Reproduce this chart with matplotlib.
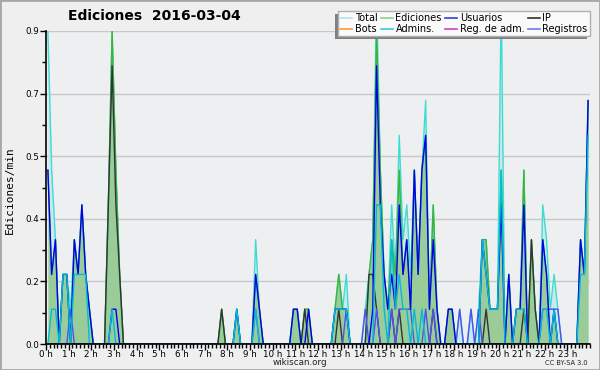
import numpy as np
import matplotlib
matplotlib.use("Agg")
import matplotlib.pyplot as plt
from matplotlib.lines import Line2D
from matplotlib.patches import Rectangle
from matplotlib.ticker import FixedLocator, MultipleLocator

# 10-minute bins (6 per hour), values in edits per minute
total = (
    [.9, .5, .3, 0, .2, .2] + [.1, .3, .2, .4, .2, .1] + [0, 0, 0, 0, .4, .9] + [.5, .2, 0, 0, 0, 0] +
    [0] * 6 + [0] * 6 + [0] * 6 + [0, 0, 0, 0, .1, 0] +
    [0, 0, .1, 0, 0, 0] + [0, .3, .1, 0, 0, 0] + [0, 0, 0, 0, 0, .1] + [.1, 0, .1, .1, 0, 0] +
    [0, 0, 0, 0, .1, .2] + [.1, .2, 0, 0, 0, 0] + [.1, .2, .3, 1.0, .5, .2] + [.1, .4, .2, .6, .3, .4] +
    [.2, .5, .2, .5, .7, .1] + [.4, .1, 0, 0, .1, .1] + [0, .1, 0, 0, .1, 0] + [.1, .3, .3, .1, .1, .1] +
    [1.0, 0, .2, 0, .1, .1] + [.5, 0, .3, .1, 0, .4] + [.3, .1, .2, .1, 0, 0] + [0, 0, 0, .3, .2, .7]
)
edits = (
    [.5, .2, .3, 0, .2, .2] + [0, .3, .2, .4, .2, .1] + [0, 0, 0, 0, .4, .9] + [.5, .2, 0, 0, 0, 0] +
    [0] * 6 + [0] * 6 + [0] * 6 + [0, 0, 0, 0, .1, 0] +
    [0, 0, .1, 0, 0, 0] + [0, .2, .1, 0, 0, 0] + [0, 0, 0, 0, 0, .1] + [.1, 0, .1, .1, 0, 0] +
    [0, 0, 0, 0, .1, .2] + [.1, .1, 0, 0, 0, 0] + [0, .2, .3, .9, .5, .2] + [.1, .3, .2, .5, .2, .3] +
    [.1, .5, .2, .5, .6, .1] + [.4, .1, 0, 0, .1, .1] + [0] * 6 + [0, .3, .3, .1, .1, .1] +
    [.5, 0, .2, 0, .1, .1] + [.5, 0, .3, .1, 0, .3] + [.2, 0, .1, 0, 0, 0] + [0, 0, 0, .3, .2, .7]
)
users = (
    [.5, .2, .3, 0, .2, .2] + [0, .3, .2, .4, .2, .1] + [0, 0, 0, 0, 0, .1] + [.1, 0, 0, 0, 0, 0] +
    [0] * 6 + [0] * 6 + [0] * 6 + [0] * 6 +
    [0, 0, .1, 0, 0, 0] + [0, .2, .1, 0, 0, 0] + [0, 0, 0, 0, 0, .1] + [.1, 0, 0, .1, 0, 0] +
    [0, 0, 0, 0, .1, .1] + [.1, .1, 0, 0, 0, 0] + [0, 0, .1, .8, .4, .2] + [.1, .2, .1, .4, .2, .3] +
    [.1, .5, .2, .5, .6, .1] + [.3, .1, 0, 0, .1, .1] + [0] * 6 + [0, .3, .2, .1, .1, .1] +
    [.4, 0, .2, 0, .1, .1] + [.4, 0, 0, 0, 0, .3] + [.2, 0, .1, 0, 0, 0] + [0, 0, 0, .3, .2, .7]
)
ip = (
    [0] * 6 + [0] * 6 + [0, 0, 0, 0, .4, .8] + [.4, .2, 0, 0, 0, 0] +
    [0] * 6 + [0] * 6 + [0] * 6 + [0, 0, 0, 0, .1, 0] +
    [0] * 6 + [0] * 6 + [0] * 6 + [0, 0, .1, 0, 0, 0] +
    [0, 0, 0, 0, 0, .1] + [0] * 6 + [0, .2, .2, .1, 0, 0] + [0, .1, 0, .1, 0, 0] +
    [0] * 6 + [.1, 0, 0, 0, 0, 0] + [0] * 6 + [0, 0, .1, 0, 0, 0] +
    [0] * 6 + [.1, 0, .3, .1, 0, 0] + [0] * 6 + [0] * 6
)
admins = (
    [0, .1, .1, 0, .2, .2] + [0, .2, .2, .2, .2, 0] + [0, 0, 0, 0, 0, .1] + [0] * 6 +
    [0] * 6 + [0] * 6 + [0] * 6 + [0] * 6 +
    [0, 0, .1, 0, 0, 0] + [0, .1, 0, 0, 0, 0] + [0] * 6 + [0] * 6 +
    [0, 0, 0, 0, .1, .1] + [.1, .1, 0, 0, 0, 0] + [0, 0, 0, .4, .4, .1] + [0, .3, .1, .2, .1, .1] +
    [0, .1, 0, .1, 0, 0] + [0] * 6 + [0] * 6 + [0, .3, .2, .1, .1, .1] +
    [.5, 0, 0, 0, .1, .1] + [.1, 0, 0, 0, 0, .1] + [.1, 0, .1, 0, 0, 0] + [0, 0, 0, .2, .2, .6]
)
logs = (
    [0] * 6 + [.1, 0, 0, 0, 0, 0] + [0] * 6 + [0] * 6 +
    [0] * 6 + [0] * 6 + [0] * 6 + [0] * 6 +
    [0] * 6 + [0, .1, 0, 0, 0, 0] + [0] * 6 + [0] * 6 +
    [0] * 6 + [0, .1, 0, 0, 0, 0] + [.1, 0, 0, .1, 0, 0] + [0, .1, 0, .1, .1, .1] +
    [.1, 0, 0, 0, .1, 0] + [.1, 0, 0, 0, 0, 0] + [0, .1, 0, 0, .1, 0] + [.1, 0, 0, 0, 0, 0] +
    [0] * 6 + [0, 0, 0, 0, 0, .1] + [.1, .1, .1, .1, 0, 0] + [0] * 6
)

hour_labels = [f"{h} h" for h in range(24)]
ytick_vals = [0, 0.18, 0.36, 0.54, 0.72, 0.9]
ytick_labels = ["0.0", "0.2", "0.4", "0.5", "0.7", "0.9"]
legend_labels = ["Total", "Bots", "Ediciones", "Admins.", "Usuarios", "Reg. de adm.", "IP", "Registros"]
legend_colors = ["#b4e6e6", "#ff9a2e", "#8fd18f", "#3ccbe0", "#3b3bdd", "#d23fd2", "#333333", "#7676ee"]

x = (np.arange(len(total)) + 0.5) / 6.0

fig = plt.figure(figsize=(6.0, 3.7), dpi=100, facecolor="#efefef")
ax = fig.add_axes([46 / 600, 1 - 344 / 370, 544 / 600, 313 / 370])
ax.set_facecolor("#edeff1")

ax.fill_between(x, total, 0, color="#cbe8ec", lw=0, zorder=1)
ax.fill_between(x, edits, 0, color="#99cc99", lw=0, zorder=1.1)
ax.plot(x, total, color="#40dcd0", lw=1.0, zorder=2)
ax.plot(x, edits, color="#3cb43c", lw=1.0, zorder=2.1)
ax.plot(x, ip, color="#333333", lw=1.0, zorder=2.2)
ax.plot(x, logs, color="#5050f0", lw=1.0, zorder=2.3)
ax.plot(x, users, color="#0000ee", lw=1.0, zorder=2.4)
ax.plot(x, admins, color="#00bcd8", lw=1.0, zorder=2.5)

ax.set_xlim(0, 24)
ax.set_ylim(0, 0.9)
ax.xaxis.set_major_locator(FixedLocator(range(24)))
ax.set_xticklabels(hour_labels)
ax.xaxis.set_minor_locator(MultipleLocator(1 / 6))
ax.yaxis.set_major_locator(FixedLocator(ytick_vals))
ax.set_yticklabels(ytick_labels)
ax.yaxis.set_minor_locator(FixedLocator([0.09, 0.27, 0.45, 0.63, 0.81]))
ax.tick_params(axis="both", which="major", direction="out", length=4, width=1,
               labelsize=6.3, pad=1, color="black")
ax.tick_params(axis="x", which="major", pad=0.5)
ax.tick_params(axis="both", which="minor", direction="out", length=3, width=1, color="black")
ax.grid(axis="y", which="major", color="#c8c8c8", lw=1)
ax.set_axisbelow(True)
for s in ["top", "right"]:
    ax.spines[s].set_visible(False)
for s in ["left", "bottom"]:
    ax.spines[s].set_linewidth(1.2)
    ax.spines[s].set_zorder(5)

fig.text(154 / 600, 1 - 16 / 370, "Ediciones  2016-03-04", ha="center", va="center",
         fontsize=10, fontweight="bold")
fig.text(10 / 600, 1 - 190 / 370, "Ediciones/min", rotation=90, ha="center", va="center",
         fontsize=8, family="DejaVu Sans Mono")
fig.text(0.5, 1 - 362.5 / 370, "wikiscan.org", ha="center", va="center", fontsize=6.3, color="#222222")
fig.text(588 / 600, 1 - 363 / 370, "CC BY-SA 3.0", ha="right", va="center", fontsize=4.8, color="#222222")

handles = [Line2D([0], [0], color=c, lw=1.2) for c in legend_colors]
leg = fig.legend(handles, legend_labels, ncol=4, loc="upper right",
                 bbox_to_anchor=(590 / 600, 1 - 11 / 370), fontsize=7, frameon=True,
                 fancybox=False, edgecolor="#b0b0b0", facecolor="#fafafa", framealpha=1,
                 handlelength=1.2, handletextpad=0.3, columnspacing=0.35, borderpad=0.25,
                 labelspacing=0.05, borderaxespad=0)
leg.set_zorder(10)
fig.canvas.draw()
bb = leg.get_window_extent()
shadow = Rectangle((bb.x0 - 3, bb.y0 - 3), bb.width, bb.height, transform=None,
                   facecolor="#808080", edgecolor="none", zorder=9)
fig.patches.append(shadow)

fig.patches.append(Rectangle((0, 0), 1, 1, transform=fig.transFigure, fill=False,
                             edgecolor="#a8a8a8", lw=2, zorder=20))

fig.savefig("out.png", dpi=100, facecolor=fig.get_facecolor())
